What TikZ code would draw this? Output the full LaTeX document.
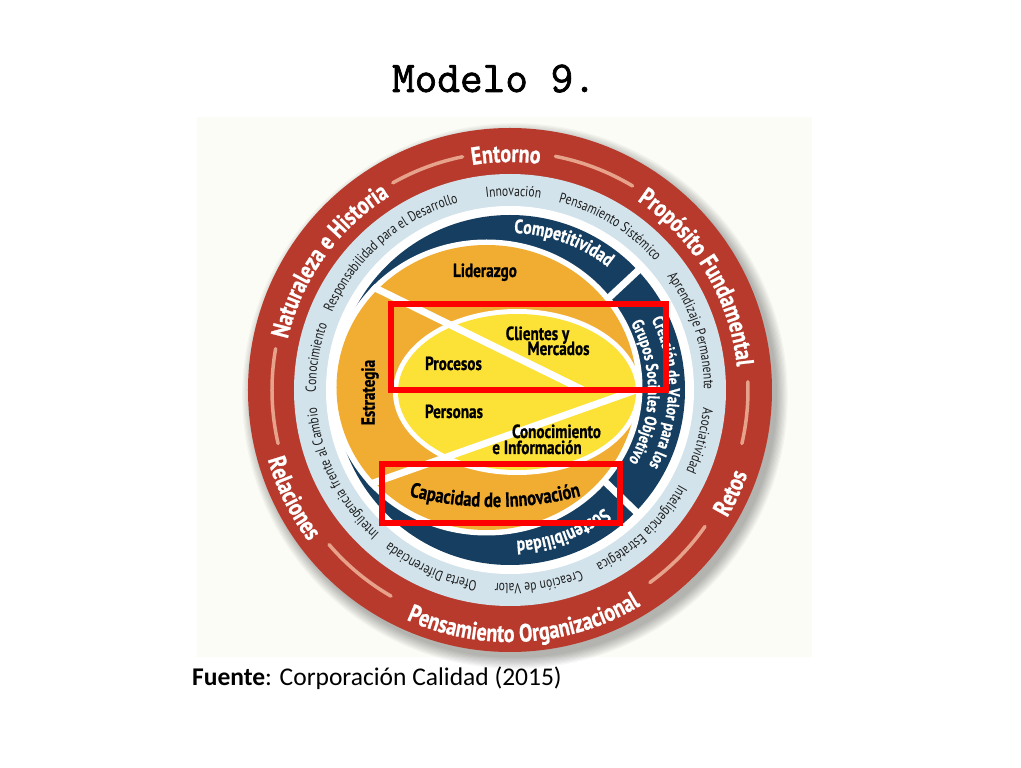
\documentclass[tikz,border=0pt]{standalone}
\usepackage{fontspec}
\setmainfont{PT Sans}
\newfontfamily\cf[FakeStretch=0.8]{PT Sans}
\newfontfamily\cfb[FakeStretch=0.8,BoldFeatures={FakeBold=0.8}]{PT Sans}
\newfontfamily\titlefont[FakeBold=1.6]{Latin Modern Mono}
\newfontfamily\srcfont{Carlito}
\usetikzlibrary{decorations.text,calc}
\definecolor{ringred}{RGB}{184,58,44}
\definecolor{dashc}{RGB}{231,162,140}
\definecolor{lblue}{RGB}{210,227,235}
\definecolor{dblue}{RGB}{22,62,96}
\definecolor{orng}{RGB}{240,173,50}
\definecolor{yell}{RGB}{252,225,55}
\definecolor{txtd}{RGB}{30,30,30}
\definecolor{bgcream}{RGB}{252,252,247}
\newcommand\fsz[1]{\fontsize{#1}{#1}\selectfont}
\newcommand\cwarc[5]{%
  \path[decorate,decoration={text along path,text align=center,text={|#4|#5}}]
    ({#2+#3}:#1pt) arc[start angle={#2+#3}, end angle={#2-#3}, radius=#1pt];}
\newcommand\ccwarc[5]{%
  \path[decorate,decoration={text along path,text align=center,text={|#4|#5}}]
    ({#2-#3}:#1pt) arc[start angle={#2-#3}, end angle={#2+#3}, radius=#1pt];}
\newcommand\redf{\cfb\bfseries\fsz{25}\color{white}}
\newcommand\lbf{\cf\fsz{14.5}\color{txtd}}
\newcommand\dbf{\cfb\bfseries\fsz{19.5}\color{white}}
\newcommand\dbs{\cfb\bfseries\fsz{17}\color{white}}
\newcommand\innerf{\cfb\bfseries\fsz{19}\color{black}}
\begin{document}
\begin{tikzpicture}[x=1pt,y=1pt,
  intext/.style={inner sep=0pt,anchor=base,font=\innerf}]
\useasboundingbox (-510,-378) rectangle (511,390);
\fill[white] (-510,-378) rectangle (511,390);
\fill[bgcream] (-313,273) rectangle (302,-267);
% shadow
\foreach \i in {0,...,9} \fill[black,opacity=0.03] (5,-6) circle ({262+\i*1.2pt});
% red ring
\fill[ringred] (0,0) circle (262pt);
\foreach \a/\b in {119.5/101.5, 79/59, 2/-13, -35/-54, -120/-139.5, -167/-190}
  \draw[dashc, line width=3.5pt, line cap=round] (\a:238pt) arc[start angle=\a, end angle=\b, radius=238pt];
% light blue ring
\fill[lblue] (0,0) circle (216pt);
\fill[white] (0,0) circle (184pt);
% dark blue ring
\fill[dblue] (0,0) circle (175pt);
\fill[white] (-23.5,2.5) ellipse [x radius=156pt, y radius=148pt];
\draw[white, line width=7pt] (43:125pt) -- (43:180pt);
\draw[white, line width=7pt] (-44:125pt) -- (-44:180pt);
% orange and yellow
\fill[orng] (-23.5,2.5) ellipse [x radius=150pt, y radius=142.5pt];
\fill[white] (7,-2) ellipse [x radius=124pt, y radius=83pt];
\fill[yell] (7,-2) ellipse [x radius=119pt, y radius=78pt];
\begin{scope}
  \clip (-23.5,2.5) ellipse [x radius=156pt, y radius=148pt];
  \draw[white, line width=7pt] (-200,134) -- (73,0);
  \draw[white, line width=7pt] (126,0) -- (-200,-115.4);
\end{scope}
\begin{scope}
  \clip (7,-2) ellipse [x radius=119pt, y radius=78pt];
  \draw[white, line width=5pt] (-130,0) -- (130,0);
\end{scope}
% red ring texts
\cwarc{228}{91}{40}{\redf}{Entorno}
\cwarc{228}{144.5}{45}{\redf}{Naturaleza e Historia}
\cwarc{228}{31}{45}{\redf}{Propósito Fundamental}
\ccwarc{252}{-25}{30}{\redf}{Retos}
\ccwarc{252}{-86.5}{50}{\redf}{Pensamiento Organizacional}
\ccwarc{252}{-153.5}{30}{\redf}{Relaciones}
% light blue texts
\cwarc{194}{89}{20}{\lbf}{Innovación}
\cwarc{194}{58.5}{30}{\lbf}{Pensamiento Sistémico}
\cwarc{194}{18}{30}{\lbf}{Aprendizaje Permanente}
\cwarc{194}{-15}{20}{\lbf}{Asociatividad}
\cwarc{194}{-46.5}{30}{\lbf}{Inteligencia Estratégica}
\cwarc{194}{-81.5}{25}{\lbf}{Creación de Valor}
\cwarc{194}{-114}{25}{\lbf}{Oferta Diferenciada}
\cwarc{194}{-153.5}{30}{\lbf}{Inteligencia frente al Cambio}
\cwarc{194}{170.5}{20}{\lbf}{Conocimiento}
\cwarc{194}{131}{40}{\lbf}{Responsabilidad para el Desarrollo}
% dark blue texts
\cwarc{157}{70}{30}{\dbf}{Competitividad}
\cwarc{158}{-1}{45}{\dbs}{Creación de Valor para los}
\cwarc{138}{-1}{50}{\dbs}{Grupos Sociales Objetivo}
\cwarc{151}{-69.5}{30}{\dbf}{Sostenibilidad}
% inner texts
\node[intext] (lid) at (-25,113) {Liderazgo};
\node[inner sep=0pt,font=\innerf,rotate=90] (est) at (-140,-2.5) {Estrategia};
\node[intext] (cli) at (27.5,50) {Clientes y};
\node[intext] (mer) at (48.5,35) {Mercados};
\node[intext] (pro) at (-56.5,20) {Procesos};
\node[intext] (per) at (-56,-28) {Personas};
\node[intext] (con) at (46.5,-48) {Conocimiento};
\node[intext] (info) at (27,-64) {e Información};
\path[decorate,decoration={text along path,text align=center,text={|\cfb\bfseries\fsz{20.5}\color{black}|Capacidad de Innovación}}]
  ($(-15,223)+(-120:340pt)$) arc[start angle=-120, end angle=-60, radius=340pt];
% red highlight boxes
\draw[red, line width=6pt] (-118.5,85.5) rectangle (156.5,0);
\draw[red, line width=6pt] (-127.5,-74.5) rectangle (110,-133.5);
% title and source
\node[inner sep=0pt,anchor=base] (title) at (-16,298) {\titlefont\fsz{44}Modelo 9.};
\node[inner sep=0pt,anchor=base west] (src) at (-318,-296) {\srcfont\fsz{25.5}\textbf{Fuente}: Corporación Calidad (2015)};
\end{tikzpicture}
\end{document}
